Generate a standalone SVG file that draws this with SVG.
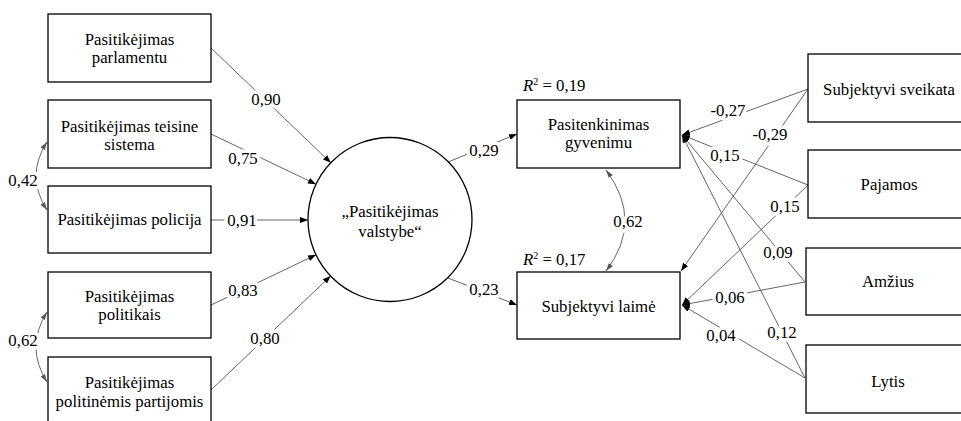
<svg xmlns="http://www.w3.org/2000/svg" width="961" height="421" viewBox="0 0 961 421">
<style>
  .box { fill: #ffffff; stroke: #000000; stroke-width: 1.3; }
  .t { font-family: 'Liberation Serif', 'DejaVu Serif', serif; font-size: 16.8px; fill: #000000; text-anchor: middle; }
  .lbl { font-family: 'Liberation Serif', 'DejaVu Serif', serif; font-size: 16.8px; fill: #000000; text-anchor: middle; stroke: #ffffff; stroke-width: 7; paint-order: stroke; stroke-linejoin: round; }
  .r2 { font-family: 'Liberation Serif', 'DejaVu Serif', serif; font-size: 16.8px; fill: #000000; }
  .c { fill: none; stroke: #555555; stroke-width: 0.9; }
</style>
<defs>
  <marker id="ah" markerUnits="userSpaceOnUse" markerWidth="8" markerHeight="8" viewBox="0 0 8 8" refX="8" refY="4" orient="auto">
    <path d="M0,1 L8,4 L0,7 Z" fill="#000000"/>
  </marker>
  <marker id="ahs" markerUnits="userSpaceOnUse" markerWidth="8" markerHeight="8" viewBox="0 0 8 8" refX="8" refY="4" orient="auto-start-reverse">
    <path d="M0,1.5 L8,4 L0,6.5 Z" fill="#555555"/>
  </marker>
</defs>

<g id="connectors">
  <line class="c" x1="211" y1="48" x2="330.8" y2="162.8" marker-end="url(#ah)"/>
  <line class="c" x1="211" y1="134" x2="316" y2="184.2" marker-end="url(#ah)"/>
  <line class="c" x1="211" y1="220" x2="308" y2="220" marker-end="url(#ah)"/>
  <line class="c" x1="211" y1="305" x2="316" y2="254.8" marker-end="url(#ah)"/>
  <line class="c" x1="211" y1="390" x2="330.6" y2="276" marker-end="url(#ah)"/>
  <line class="c" x1="448" y1="162" x2="517" y2="134" marker-end="url(#ah)"/>
  <line class="c" x1="448" y1="278" x2="517" y2="305" marker-end="url(#ah)"/>
  <path class="c" d="M47,142 Q25,176 47,210" marker-start="url(#ahs)" marker-end="url(#ahs)"/>
  <path class="c" d="M47,312 Q25,347 47,382" marker-start="url(#ahs)" marker-end="url(#ahs)"/>
  <path class="c" d="M606,170 Q644,221 606,271" marker-start="url(#ahs)" marker-end="url(#ahs)"/>
  <line class="c" x1="808" y1="89" x2="682" y2="135" marker-end="url(#ah)"/>
  <line class="c" x1="808" y1="89" x2="681" y2="271" marker-end="url(#ah)"/>
  <line class="c" x1="808" y1="185" x2="682" y2="135" marker-end="url(#ah)"/>
  <line class="c" x1="808" y1="185" x2="682" y2="305" marker-end="url(#ah)"/>
  <line class="c" x1="805" y1="282" x2="682" y2="135" marker-end="url(#ah)"/>
  <line class="c" x1="805" y1="282" x2="682" y2="305" marker-end="url(#ah)"/>
  <line class="c" x1="805" y1="378" x2="682" y2="135" marker-end="url(#ah)"/>
  <line class="c" x1="805" y1="378" x2="682" y2="305" marker-end="url(#ah)"/>
  <text class="lbl" x="266" y="105">0,90</text>
  <text class="lbl" x="243" y="164">0,75</text>
  <text class="lbl" x="242" y="226">0,91</text>
  <text class="lbl" x="243" y="296">0,83</text>
  <text class="lbl" x="265" y="344">0,80</text>
  <text class="lbl" x="484" y="156">0,29</text>
  <text class="lbl" x="484" y="295">0,23</text>
  <text class="lbl" x="23" y="186">0,42</text>
  <text class="lbl" x="23" y="346">0,62</text>
  <text class="lbl" x="628" y="227">0,62</text>
  <text class="lbl" x="728" y="116">-0,27</text>
  <text class="lbl" x="770" y="140">-0,29</text>
  <text class="lbl" x="725" y="161">0,15</text>
  <text class="lbl" x="785" y="212">0,15</text>
  <text class="lbl" x="778" y="258">0,09</text>
  <text class="lbl" x="730" y="303">0,06</text>
  <text class="lbl" x="721" y="341">0,04</text>
  <text class="lbl" x="782" y="338">0,12</text>
</g>

<g id="n-parlamentu">
  <rect class="box" x="48" y="14" width="163" height="68"/>
  <text class="t" x="129.5" y="45">Pasitikėjimas</text>
  <text class="t" x="129.5" y="63">parlamentu</text>
</g>
<g id="n-teisine">
  <rect class="box" x="48" y="100" width="163" height="68"/>
  <text class="t" x="129.5" y="132">Pasitikėjimas teisine</text>
  <text class="t" x="129.5" y="150">sistema</text>
</g>
<g id="n-policija">
  <rect class="box" x="48" y="186" width="163" height="67"/>
  <text class="t" x="129.5" y="225">Pasitikėjimas policija</text>
</g>
<g id="n-politikais">
  <rect class="box" x="48" y="272" width="163" height="66"/>
  <text class="t" x="129.5" y="302">Pasitikėjimas</text>
  <text class="t" x="129.5" y="320">politikais</text>
</g>
<g id="n-partijomis">
  <rect class="box" x="48" y="357" width="163" height="70"/>
  <text class="t" x="129.5" y="388">Pasitikėjimas</text>
  <text class="t" x="129.5" y="407">politinėmis partijomis</text>
</g>

<g id="n-valstybe">
  <circle cx="390" cy="219.5" r="82" fill="#ffffff" stroke="#000000" stroke-width="1.3"/>
  <text class="t" x="390" y="217">„Pasitikėjimas</text>
  <text class="t" x="390" y="237">valstybe“</text>
</g>

<g id="n-pasitenkinimas">
  <text class="r2" x="523" y="91"><tspan font-style="italic">R</tspan><tspan font-size="10" dy="-6">2</tspan><tspan dy="6"> = 0,19</tspan></text>
  <rect class="box" x="517" y="100" width="163" height="68"/>
  <text class="t" x="598.5" y="130">Pasitenkinimas</text>
  <text class="t" x="598.5" y="148">gyvenimu</text>
</g>
<g id="n-laime">
  <text class="r2" x="523" y="265"><tspan font-style="italic">R</tspan><tspan font-size="10" dy="-6">2</tspan><tspan dy="6"> = 0,17</tspan></text>
  <rect class="box" x="517" y="272" width="163" height="67"/>
  <text class="t" x="598.5" y="312">Subjektyvi laimė</text>
</g>

<g id="n-sveikata">
  <rect class="box" x="808" y="54" width="170" height="68"/>
  <text class="t" x="889" y="95">Subjektyvi sveikata</text>
</g>
<g id="n-pajamos">
  <rect class="box" x="808" y="150" width="170" height="68"/>
  <text class="t" x="889" y="190">Pajamos</text>
</g>
<g id="n-amzius">
  <rect class="box" x="806" y="248" width="172" height="67"/>
  <text class="t" x="888" y="287">Amžius</text>
</g>
<g id="n-lytis">
  <rect class="box" x="806" y="345" width="172" height="68"/>
  <text class="t" x="888" y="387">Lytis</text>
</g>
</svg>
